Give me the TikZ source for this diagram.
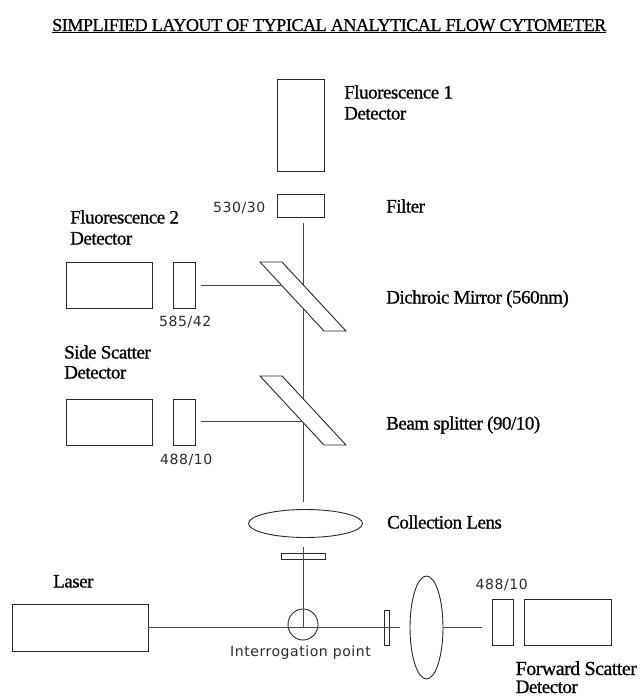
\documentclass[tikz,border=0pt]{standalone}
\usepackage{fontspec}
\usepackage{tikz}
\usetikzlibrary{positioning,shapes.geometric}
\newfontfamily\serifname[FakeBold=0.8,LetterSpace=-2.5]{Liberation Serif}
\newfontfamily\tagname[LetterSpace=4]{DejaVu Sans}
\definecolor{cytoline}{HTML}{2A2A2A}
\tikzset{
  optic/.style={draw=cytoline, line width=0.9pt, inner sep=0pt, outer sep=0pt},
  detector/.style={optic, minimum width=86.5pt, minimum height=46pt},
  filterbox/.style={optic, minimum width=22pt, minimum height=46pt},
  lens/.style={optic, ellipse},
  beam/.style={draw=cytoline!85, line width=1pt},
  mirror/.style={draw=cytoline, line width=0.9pt, fill=white},
  caption/.style={anchor=base west, inner sep=0pt, font=\serifname\fontsize{19}{21}\selectfont},
  tagtext/.style={anchor=base west, inner sep=0pt, font=\tagname\fontsize{14}{16}\selectfont, text=cytoline},
}
\begin{document}
\begin{tikzpicture}[x=1pt,y=-1pt]
\useasboundingbox (0,0) rectangle (641,696);
\node[caption, font=\serifname\fontsize{18.1}{20}\selectfont] (title) at (52,31) {\underline{SIMPLIFIED LAYOUT OF TYPICAL ANALYTICAL FLOW CYTOMETER}};

% vertical path
\node[optic, minimum width=47pt, minimum height=92pt] (FOne) at (300.5,125) {};
\node[optic, minimum width=47pt, minimum height=23pt] (FOneFilt) at (300.5,205.5) {};
\node[detector] (FTwo) at (109.25,285) {};
\node[filterbox, right=21pt of FTwo] (FTwoFilt) {};
\node[detector] (Side) at (109.25,422) {};
\node[filterbox, right=21pt of Side] (SideFilt) {};
\node[lens, minimum width=114pt, minimum height=28pt] (CollLens) at (305.5,523.5) {};
\node[optic, minimum width=44pt, minimum height=5.5pt] (BlockFilt) at (303,556.5) {};
\node[lens, minimum width=30pt, minimum height=31pt] (IPoint) at (303,624.5) {};

% horizontal path
\node[optic, minimum width=136pt, minimum height=47pt] (Laser) at (80,627.5) {};
\node[optic, minimum width=5pt, minimum height=35pt] (BlockFiltB) at (386.5,627.5) {};
\node[lens, minimum width=33pt, minimum height=103pt] (FwdLens) at (426.5,627.5) {};
\node[optic, minimum width=87pt, minimum height=46pt] (Fwd) at (567.5,622) {};
\node[optic, minimum width=21.5pt, minimum height=46pt, left=10.5pt of Fwd] (FwdFilt) {};

\coordinate (beamtop) at (303,223);
\coordinate (beamlow) at (303,502);
\coordinate (collect) at (303,547);
\coordinate (ipcentre) at (303,627);
\coordinate (laserend) at (400,627.5);
\coordinate (fwdend) at (482,627.5);
\coordinate (ftwostart) at (201,285);
\coordinate (ftwoend) at (281,285);
\coordinate (sidestart) at (201,421.5);
\coordinate (sideend) at (303,421.5);

\draw[beam] (beamtop) -- (beamlow);
\draw[beam] (collect) -- (ipcentre);
\draw[beam] (Laser.east) -- (laserend);
\draw[beam] (FwdLens.east) -- (fwdend);

% mirrors sit on top of the beam
\draw[mirror] (260,262) -- (282,262) -- (346,331) -- (324,331) -- cycle;
\draw[mirror] (260,376) -- (282,376) -- (346,445) -- (324,445) -- cycle;
\draw[beam] (ftwostart) -- (ftwoend);
\draw[beam] (sidestart) -- (sideend);

\node[caption] (lblFOne) at (344,98.5) {Fluorescence 1};
\node[caption] (lblFOneB) at (344,119.5) {Detector};
\node[caption] (lblFilter) at (386,212.5) {Filter};
\node[caption] (lblFTwo) at (70,223.5) {Fluorescence 2};
\node[caption] (lblFTwoB) at (70,244.5) {Detector};
\node[caption] (lblDich) at (386,303.5) {Dichroic Mirror (560nm)};
\node[caption] (lblSide) at (64,358.5) {Side Scatter};
\node[caption] (lblSideB) at (64,378.5) {Detector};
\node[caption] (lblBeam) at (386,429.5) {Beam splitter (90/10)};
\node[caption] (lblColl) at (387,528.5) {Collection Lens};
\node[caption] (lblLaser) at (53,587.5) {Laser};
\node[caption, font=\serifname\fontsize{19.9}{21}\selectfont] (lblFwd) at (515.5,675) {Forward Scatter};
\node[caption] (lblFwdB) at (515.5,693) {Detector};

\node[tagtext] (tagA) at (213,212) {530/30};
\node[tagtext] (tagB) at (159,326) {585/42};
\node[tagtext] (tagC) at (160,464) {488/10};
\node[tagtext] (tagD) at (475.5,589) {488/10};
\node[tagtext] (tagI) at (230,656) {Interrogation point};
\end{tikzpicture}
\end{document}
